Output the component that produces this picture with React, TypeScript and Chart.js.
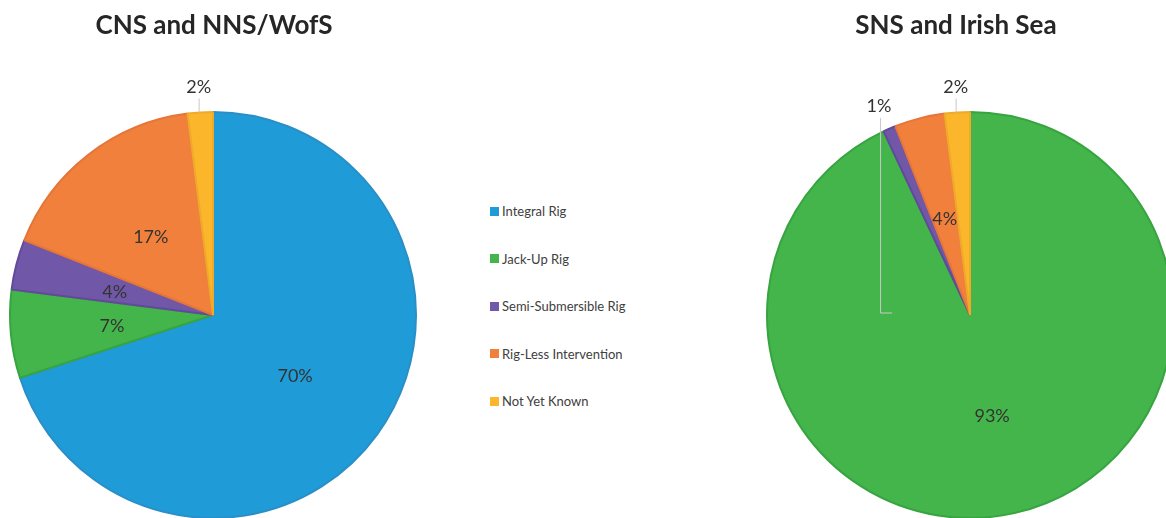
import React, { useEffect, useRef } from "react";
import { Chart, registerables } from "chart.js";

Chart.register(...registerables);

const categories = ["Integral Rig", "Jack-Up Rig", "Semi-Submersible Rig", "Rig-Less Intervention", "Not Yet Known"];
const cnsValues = [70, 7, 4, 17, 2];
const snsValues = [0, 93, 1, 4, 2];
const cnsTitle = "CNS and NNS/WofS";
const snsTitle = "SNS and Irish Sea";
const cnsOutsideLabels = [4];
const snsOutsideLabels = [2, 4];
const snsElbowLabels = [2];

const fillColors = ["#1f9cd8", "#44b54b", "#7157a7", "#f1803c", "#fbb62b"];
const borderColors = ["#2a8ec7", "#37a441", "#62499a", "#e5763a", "#eeaa28"];

const FONT = "Lato, 'Open Sans', sans-serif";

const sliceLabels = {
  id: "sliceLabels",
  afterDatasetsDraw(chart: any, _args: any, opts: any) {
    const ctx = chart.ctx;
    const meta = chart.getDatasetMeta(0);
    const data = chart.data.datasets[0].data as number[];
    const total = data.reduce((a, b) => a + b, 0);
    const outside: number[] = opts.outside || [];
    const elbow: number[] = opts.elbow || [];
    ctx.save();
    ctx.font = `18px ${FONT}`;
    ctx.fillStyle = "#333333";
    ctx.textAlign = "center";
    ctx.textBaseline = "middle";
    meta.data.forEach((arc: any, i: number) => {
      const v = data[i];
      if (!v) return;
      const { x, y, startAngle, endAngle, outerRadius } = arc.getProps(
        ["x", "y", "startAngle", "endAngle", "outerRadius"],
        true
      );
      const mid = (startAngle + endAngle) / 2;
      const text = Math.round((v / total) * 100) + "%";
      if (outside.includes(i)) {
        const r = outerRadius + 26;
        const lx = x + Math.cos(mid) * r;
        const ly = y + Math.sin(mid) * r;
        ctx.fillText(text, lx, ly + 1);
        ctx.strokeStyle = "#c8c8c8";
        ctx.lineWidth = 1;
        ctx.beginPath();
        if (elbow.includes(i)) {
          ctx.moveTo(lx + 1.5, ly + 13);
          ctx.lineTo(lx + 1.5, y - 2);
          ctx.lineTo(lx + 13, y - 2);
        } else {
          const dx = lx + 0.5 - x;
          ctx.moveTo(lx + 0.5, ly + 12);
          ctx.lineTo(lx + 0.5, y - Math.sqrt(Math.max(outerRadius * outerRadius - dx * dx, 0)));
        }
        ctx.stroke();
      } else {
        const r = outerRadius * 0.5;
        ctx.fillText(text, x + Math.cos(mid) * r, y + Math.sin(mid) * r + 2);
      }
    });
    ctx.restore();
  },
};

function PieChart(props: {
  values: number[];
  outside: number[];
  elbow: number[];
  width: number;
  height: number;
  padding: { left: number; right: number; top: number; bottom: number };
}) {
  const ref = useRef<HTMLCanvasElement | null>(null);
  useEffect(() => {
    if (!ref.current) return;
    const chart = new Chart(ref.current, {
      type: "pie",
      data: {
        labels: categories,
        datasets: [
          {
            data: props.values,
            backgroundColor: fillColors,
            borderColor: borderColors,
            borderWidth: 2,
          },
        ],
      },
      options: {
        responsive: false,
        animation: false,
        radius: 203,
        layout: { padding: props.padding },
        plugins: {
          legend: { display: false },
          tooltip: { enabled: false },
          sliceLabels: { outside: props.outside, elbow: props.elbow },
        } as any,
      } as any,
      plugins: [sliceLabels],
    });
    return () => chart.destroy();
  }, []);
  return <canvas ref={ref} width={props.width} height={props.height} style={{ width: props.width, height: props.height }} />;
}

export default function App() {
  const titleStyle: React.CSSProperties = {
    position: "absolute",
    top: 10,
    fontFamily: FONT,
    fontWeight: 700,
    fontSize: 26,
    lineHeight: "28px",
    color: "#262626",
    textAlign: "center",
    whiteSpace: "nowrap",
  };
  return (
    <div
      style={{
        position: "fixed",
        left: 0,
        top: 0,
        width: 1166,
        height: 518,
        overflow: "hidden",
        background: "#ffffff",
      }}
    >
      <div style={{ position: "absolute", left: 0, top: 0 }}>
        <PieChart
          values={cnsValues}
          outside={cnsOutsideLabels}
          elbow={[]}
          width={426}
          height={518}
          padding={{ left: 10, right: 10, top: 112, bottom: 0 }}
        />
      </div>
      <div style={{ position: "absolute", left: 750, top: 0 }}>
        <PieChart
          values={snsValues}
          outside={snsOutsideLabels}
          elbow={snsElbowLabels}
          width={440}
          height={518}
          padding={{ left: 17, right: 17, top: 112, bottom: 0 }}
        />
      </div>
      <div style={{ ...titleStyle, left: 14, width: 400 }}>{cnsTitle}</div>
      <div style={{ ...titleStyle, left: 756, width: 400 }}>{snsTitle}</div>
      <div style={{ position: "absolute", left: 490, top: 203 }}>
        {categories.map((c, i) => (
          <div
            key={c}
            style={{
              display: "flex",
              alignItems: "center",
              height: 16,
              marginBottom: i < categories.length - 1 ? 31.5 : 0,
              fontFamily: FONT,
              fontSize: 13,
              color: "#404040",
              whiteSpace: "nowrap",
            }}
          >
            <span
              style={{
                display: "inline-block",
                width: 9,
                height: 9,
                background: fillColors[i],
                marginRight: 3,
              }}
            />
            {c}
          </div>
        ))}
      </div>
    </div>
  );
}
